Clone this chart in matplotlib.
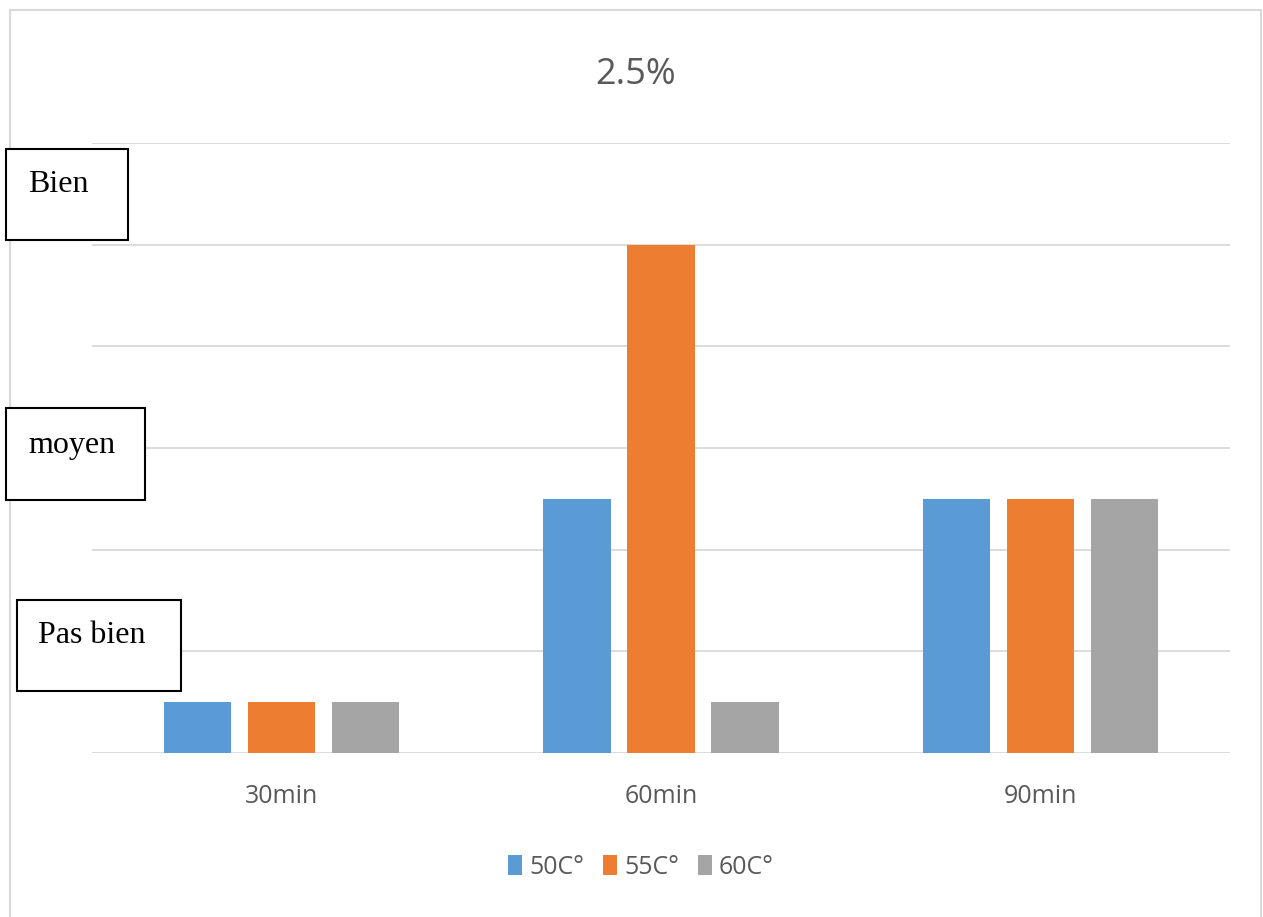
import matplotlib
matplotlib.use("Agg")
import matplotlib.pyplot as plt
from matplotlib.patches import Rectangle, Patch
import numpy as np

W, H = 1263, 917

title = "2.5%"
categories = ["30min", "60min", "90min"]
series_names = ["50C°", "55C°", "60C°"]
values_50 = [0.5, 2.5, 2.5]
values_55 = [0.5, 5.0, 2.5]
values_60 = [0.5, 0.5, 2.5]
colors = ["#5B9BD5", "#ED7D31", "#A5A5A5"]
yticks = [0, 1, 2, 3, 4, 5, 6]
box_labels = ["Bien", "moyen", "Pas bien"]

fig = plt.figure(figsize=(W / 100, H / 100), dpi=100)
fig.patch.set_facecolor("white")

def fx(px):
    return px / W

def fy(py):
    return 1 - py / H

# outer chart border
fig.add_artist(Rectangle((fx(10), fy(925)), fx(1261) - fx(10), fy(10) - fy(925),
                         transform=fig.transFigure, fill=False,
                         edgecolor="#d9d9d9", linewidth=1.5))

ax = fig.add_axes([fx(92), fy(753), fx(1230) - fx(92), fy(143) - fy(753)])
x = np.arange(len(categories))
width = 0.177
step = 0.2215
for i, (vals, name, c) in enumerate(zip([values_50, values_55, values_60], series_names, colors)):
    ax.bar(x + (i - 1) * step, vals, width=width, color=c, label=name, zorder=3)

ax.set_xlim(-0.5, len(categories) - 0.5)
ax.set_ylim(0, 6)
ax.set_yticks(yticks)
ax.set_yticklabels([])
ax.tick_params(axis="y", length=0)
ax.set_xticks(x)
ax.set_xticklabels(categories, fontfamily="Open Sans", fontsize=18, color="#595959")
ax.tick_params(axis="x", length=0, pad=22)
ax.grid(axis="y", color="#d9d9d9", linewidth=1.3, zorder=0)
for s in ax.spines.values():
    s.set_visible(False)

# title
fig.text(fx(636), fy(84), title, ha="center", va="baseline",
         fontfamily="Open Sans", fontsize=26, color="#595959")

# legend
handles = [Patch(facecolor=c, edgecolor="none") for c in colors]
fig.legend(handles, series_names, loc="center",
           bbox_to_anchor=(fx(641), fy(867)), ncol=3, frameon=False,
           prop={"family": "Open Sans", "size": 18},
           labelcolor="#595959", handlelength=0.55, handleheight=0.85,
           handletextpad=0.3, columnspacing=0.75)

# annotation boxes
boxes = [((6, 149, 128, 240), (28, 192)),
         ((6, 408, 145, 500), (28, 453)),
         ((17, 600, 181, 691), (38, 643))]
for label, ((x0, y0, x1, y1), (tx, ty)) in zip(box_labels, boxes):
    fig.add_artist(Rectangle((fx(x0), fy(y1)), fx(x1) - fx(x0), fy(y0) - fy(y1),
                             transform=fig.transFigure, facecolor="white",
                             edgecolor="black", linewidth=1.5, zorder=10))
    fig.text(fx(tx), fy(ty), label, ha="left", va="baseline",
             fontfamily="Liberation Serif", fontsize=23, color="black", zorder=11)

fig.savefig("out.png", dpi=100)
